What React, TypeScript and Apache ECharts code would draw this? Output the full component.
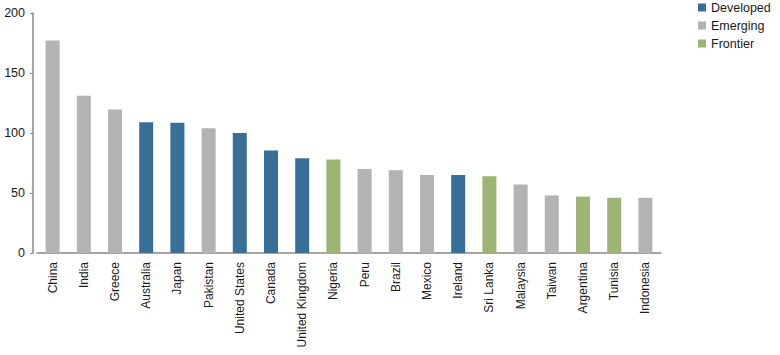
import React, { useEffect, useRef } from "react";
import * as echarts from "echarts";

const countries = [
  "China", "India", "Greece", "Australia", "Japan", "Pakistan", "United States",
  "Canada", "United Kingdom", "Nigeria", "Peru", "Brazil", "Mexico", "Ireland",
  "Sri Lanka", "Malaysia", "Taiwan", "Argentina", "Tunisia", "Indonesia",
];
const values = [177, 131, 119.5, 109, 108.5, 104, 100, 85.5, 79, 78, 70, 69, 65, 65, 64, 57, 48, 47, 46, 46];
const groups = [
  "Emerging", "Emerging", "Emerging", "Developed", "Developed", "Emerging", "Developed",
  "Developed", "Developed", "Frontier", "Emerging", "Emerging", "Emerging", "Developed",
  "Frontier", "Emerging", "Emerging", "Frontier", "Frontier", "Emerging",
];
const groupNames = ["Developed", "Emerging", "Frontier"];
const groupColors = ["#386f98", "#b3b3b3", "#9db572"];
const yTicks = { min: 0, max: 200, interval: 50 };

const FONT = "'Liberation Sans', Arial, sans-serif";

export default function App() {
  const ref = useRef<HTMLDivElement>(null);
  useEffect(() => {
    if (!ref.current) return;
    const chart = echarts.init(ref.current, null, { renderer: "svg" });
    const series = groupNames.map((g, gi) => ({
      name: g,
      type: "bar" as const,
      stack: "all",
      barWidth: 14,
      itemStyle: { color: groupColors[gi] },
      data: values.map((v, i) => (groups[i] === g ? v : "-")),
    }));
    chart.setOption({
      animation: false,
      textStyle: { fontFamily: FONT },
      grid: { left: 37, right: 119, top: 13, bottom: 102 },
      legend: {
        orient: "vertical",
        left: 698,
        top: 1,
        padding: 0,
        itemWidth: 8,
        itemHeight: 8,
        itemGap: 5,
        icon: "rect",
        textStyle: { fontFamily: FONT, fontSize: 12.5, color: "#1a1a1a" },
        data: groupNames,
      },
      xAxis: {
        type: "category",
        data: countries,
        axisLine: { lineStyle: { color: "#888", width: 1.5 } },
        axisTick: { show: false },
        axisLabel: {
          rotate: 90,
          margin: 9,
          interval: 0,
          fontFamily: FONT,
          fontSize: 12,
          color: "#1a1a1a",
        },
      },
      yAxis: {
        type: "value",
        min: yTicks.min,
        max: yTicks.max,
        interval: yTicks.interval,
        offset: 4,
        splitLine: { show: false },
        axisLine: { show: true, lineStyle: { color: "#888", width: 1.5 } },
        axisTick: { show: true, length: 3, lineStyle: { color: "#888" } },
        axisLabel: { margin: 8, fontFamily: FONT, fontSize: 12.5, color: "#1a1a1a" },
      },
      series,
    });
    return () => chart.dispose();
  }, []);
  return (
    <div
      ref={ref}
      style={{ position: "absolute", left: 0, top: 0, width: 780, height: 355 }}
    />
  );
}
